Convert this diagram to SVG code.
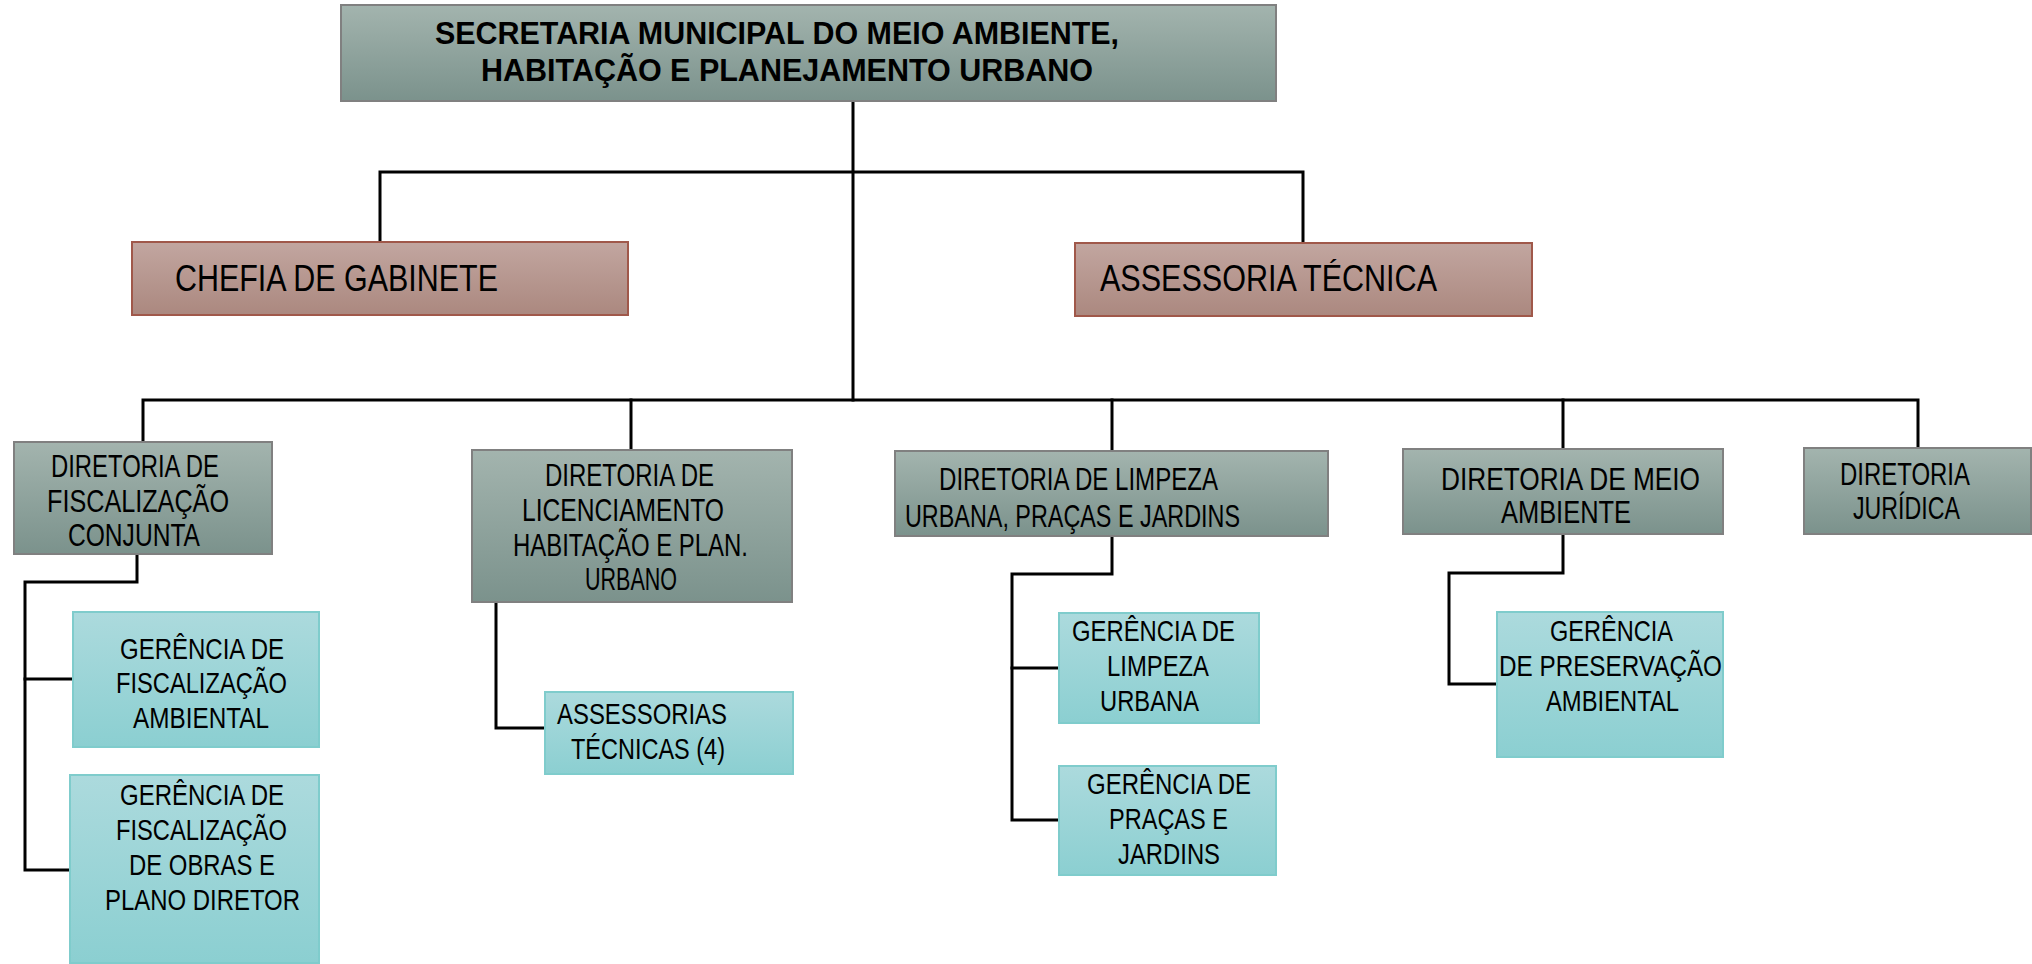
<svg xmlns="http://www.w3.org/2000/svg" width="2032" height="964" viewBox="0 0 2032 964">
<defs>
<linearGradient id="gGray" x1="0" y1="0" x2="0" y2="1"><stop offset="0" stop-color="#a3b4ae"/><stop offset="1" stop-color="#7b928c"/></linearGradient>
<linearGradient id="gBrown" x1="0" y1="0" x2="0" y2="1"><stop offset="0" stop-color="#c2a6a0"/><stop offset="1" stop-color="#ab887f"/></linearGradient>
<linearGradient id="gTeal" x1="0" y1="0" x2="0" y2="1"><stop offset="0" stop-color="#acdadd"/><stop offset="1" stop-color="#8bcfd1"/></linearGradient>
</defs>
<style>
.gray{fill:url(#gGray);stroke:#808080;stroke-width:2}
.brown{fill:url(#gBrown);stroke:#a0584a;stroke-width:2}
.teal{fill:url(#gTeal);stroke:#7fcccc;stroke-width:2}
text{font-family:"Liberation Sans",Arial,sans-serif;fill:#000}
.t{font-size:32px;font-weight:bold}
.c{font-size:37px}
.d{font-size:31px}
.g{font-size:29px}
.ln{fill:none;stroke:#000;stroke-width:3;stroke-linecap:square;stroke-linejoin:miter}
</style>
<rect width="2032" height="964" fill="#fff"/>
<g id="connectors">
<path class="ln" d="M853,101 V400"/>
<path class="ln" d="M380,242 V172 H1303 V243"/>
<path class="ln" d="M143,442 V400 H1918 V448"/>
<path class="ln" d="M631,400 V450"/>
<path class="ln" d="M1112,400 V451"/>
<path class="ln" d="M1563,400 V449"/>
<path class="ln" d="M137,554 V582 H25 V870 H70"/>
<path class="ln" d="M25,679 H73"/>
<path class="ln" d="M496,602 V728 H545"/>
<path class="ln" d="M1112,536 V574 H1012 V820 H1059"/>
<path class="ln" d="M1012,668 H1059"/>
<path class="ln" d="M1563,534 V573 H1449 V684 H1497"/>
</g>
<g id="secretaria">
<rect class="gray" x="341" y="5" width="935" height="96"/>
<text class="t" x="435" y="44" textLength="684" lengthAdjust="spacingAndGlyphs">SECRETARIA MUNICIPAL DO MEIO AMBIENTE,</text>
<text class="t" x="481" y="81" textLength="612" lengthAdjust="spacingAndGlyphs">HABITAÇÃO E PLANEJAMENTO URBANO</text>
</g>
<g id="chefia">
<rect class="brown" x="132" y="242" width="496" height="73"/>
<text class="c" x="175" y="291" textLength="323" lengthAdjust="spacingAndGlyphs">CHEFIA DE GABINETE</text>
</g>
<g id="assessoria">
<rect class="brown" x="1075" y="243" width="457" height="73"/>
<text class="c" x="1100" y="291" textLength="337" lengthAdjust="spacingAndGlyphs">ASSESSORIA TÉCNICA</text>
</g>
<g id="dir-fiscalizacao">
<rect class="gray" x="14" y="442" width="258" height="112"/>
<text class="d" x="51" y="477" textLength="168" lengthAdjust="spacingAndGlyphs">DIRETORIA DE</text>
<text class="d" x="47" y="512" textLength="182" lengthAdjust="spacingAndGlyphs">FISCALIZAÇÃO</text>
<text class="d" x="68" y="546" textLength="132" lengthAdjust="spacingAndGlyphs">CONJUNTA</text>
</g>
<g id="dir-licenciamento">
<rect class="gray" x="472" y="450" width="320" height="152"/>
<text class="d" x="545" y="486" textLength="169" lengthAdjust="spacingAndGlyphs">DIRETORIA DE</text>
<text class="d" x="522" y="521" textLength="202" lengthAdjust="spacingAndGlyphs">LICENCIAMENTO</text>
<text class="d" x="513" y="556" textLength="235" lengthAdjust="spacingAndGlyphs">HABITAÇÃO E PLAN.</text>
<text class="d" x="585" y="590" textLength="92" lengthAdjust="spacingAndGlyphs">URBANO</text>
</g>
<g id="dir-limpeza">
<rect class="gray" x="895" y="451" width="433" height="85"/>
<text class="d" x="939" y="490" textLength="279" lengthAdjust="spacingAndGlyphs">DIRETORIA DE LIMPEZA</text>
<text class="d" x="905" y="527" textLength="335" lengthAdjust="spacingAndGlyphs">URBANA, PRAÇAS E JARDINS</text>
</g>
<g id="dir-meio-ambiente">
<rect class="gray" x="1403" y="449" width="320" height="85"/>
<text class="d" x="1441" y="490" textLength="259" lengthAdjust="spacingAndGlyphs">DIRETORIA DE MEIO</text>
<text class="d" x="1501" y="523" textLength="130" lengthAdjust="spacingAndGlyphs">AMBIENTE</text>
</g>
<g id="dir-juridica">
<rect class="gray" x="1804" y="448" width="227" height="86"/>
<text class="d" x="1840" y="485" textLength="130" lengthAdjust="spacingAndGlyphs">DIRETORIA</text>
<text class="d" x="1853" y="519" textLength="107" lengthAdjust="spacingAndGlyphs">JURÍDICA</text>
</g>
<g id="ger-fisc-ambiental">
<rect class="teal" x="73" y="612" width="246" height="135"/>
<text class="g" x="120" y="659" textLength="164" lengthAdjust="spacingAndGlyphs">GERÊNCIA DE</text>
<text class="g" x="116" y="693" textLength="171" lengthAdjust="spacingAndGlyphs">FISCALIZAÇÃO</text>
<text class="g" x="133" y="728" textLength="136" lengthAdjust="spacingAndGlyphs">AMBIENTAL</text>
</g>
<g id="ger-fisc-obras">
<rect class="teal" x="70" y="775" width="249" height="188"/>
<text class="g" x="120" y="805" textLength="164" lengthAdjust="spacingAndGlyphs">GERÊNCIA DE</text>
<text class="g" x="116" y="840" textLength="171" lengthAdjust="spacingAndGlyphs">FISCALIZAÇÃO</text>
<text class="g" x="129" y="875" textLength="146" lengthAdjust="spacingAndGlyphs">DE OBRAS E</text>
<text class="g" x="105" y="910" textLength="195" lengthAdjust="spacingAndGlyphs">PLANO DIRETOR</text>
</g>
<g id="assessorias-tecnicas">
<rect class="teal" x="545" y="692" width="248" height="82"/>
<text class="g" x="557" y="724" textLength="170" lengthAdjust="spacingAndGlyphs">ASSESSORIAS</text>
<text class="g" x="571" y="759" textLength="154" lengthAdjust="spacingAndGlyphs">TÉCNICAS (4)</text>
</g>
<g id="ger-limpeza">
<rect class="teal" x="1059" y="613" width="200" height="110"/>
<text class="g" x="1072" y="641" textLength="163" lengthAdjust="spacingAndGlyphs">GERÊNCIA DE</text>
<text class="g" x="1107" y="676" textLength="102" lengthAdjust="spacingAndGlyphs">LIMPEZA</text>
<text class="g" x="1100" y="711" textLength="99" lengthAdjust="spacingAndGlyphs">URBANA</text>
</g>
<g id="ger-pracas">
<rect class="teal" x="1059" y="766" width="217" height="109"/>
<text class="g" x="1087" y="794" textLength="164" lengthAdjust="spacingAndGlyphs">GERÊNCIA DE</text>
<text class="g" x="1109" y="829" textLength="119" lengthAdjust="spacingAndGlyphs">PRAÇAS E</text>
<text class="g" x="1118" y="864" textLength="102" lengthAdjust="spacingAndGlyphs">JARDINS</text>
</g>
<g id="ger-preservacao">
<rect class="teal" x="1497" y="612" width="226" height="145"/>
<text class="g" x="1550" y="641" textLength="123" lengthAdjust="spacingAndGlyphs">GERÊNCIA</text>
<text class="g" x="1499" y="676" textLength="223" lengthAdjust="spacingAndGlyphs">DE PRESERVAÇÃO</text>
<text class="g" x="1546" y="711" textLength="133" lengthAdjust="spacingAndGlyphs">AMBIENTAL</text>
</g>
</svg>
